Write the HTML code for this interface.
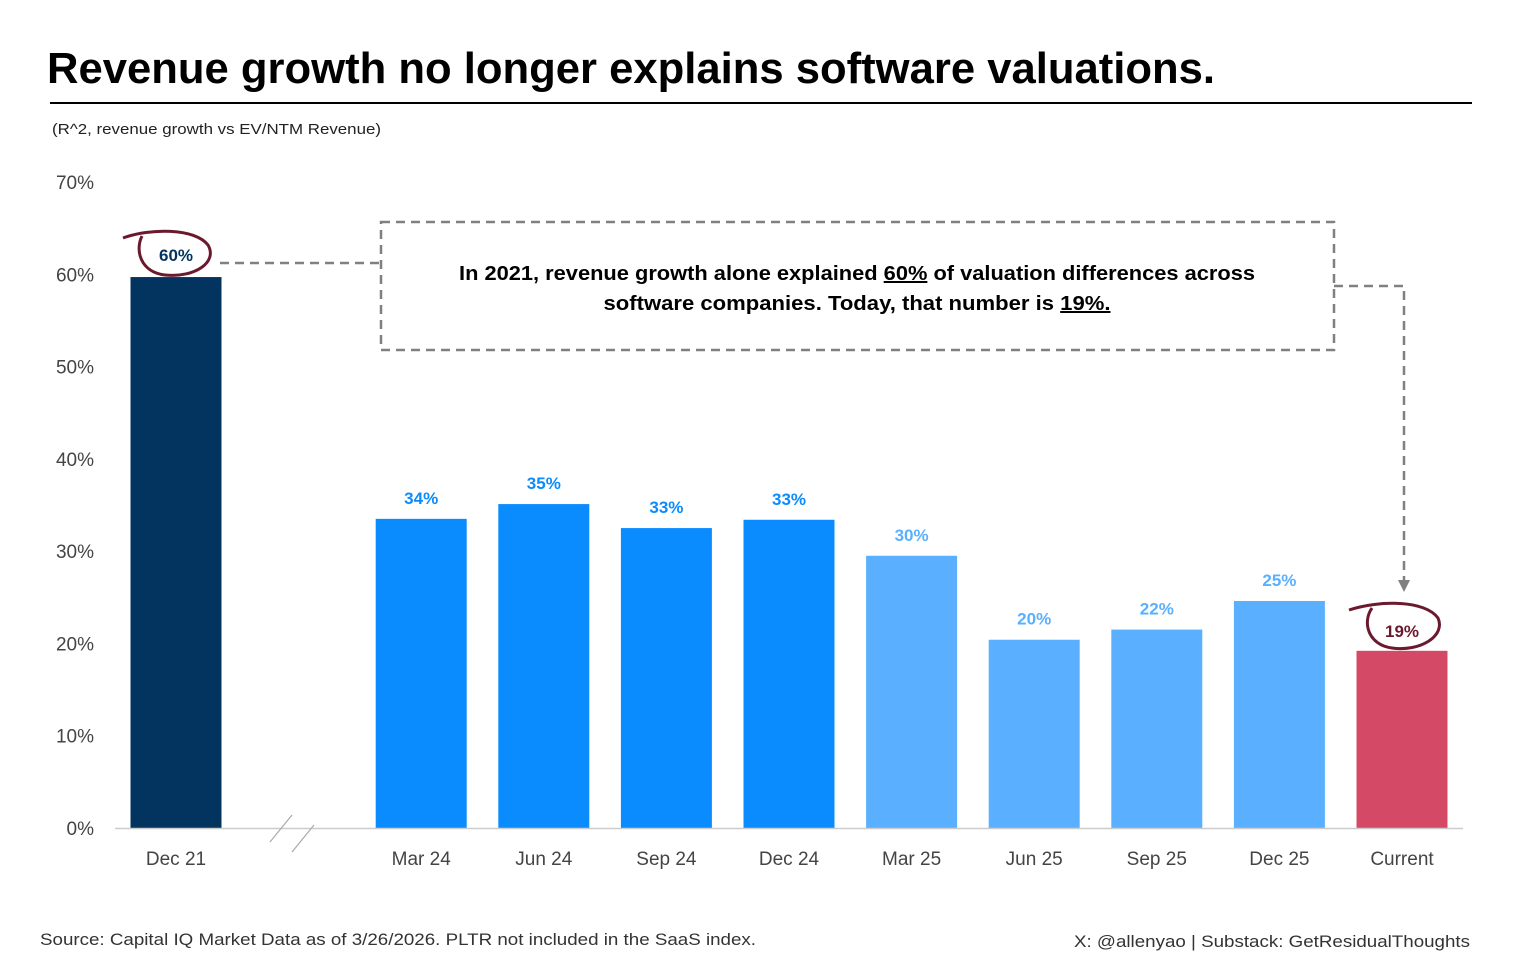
<!DOCTYPE html>
<html><head><meta charset="utf-8"><style>
body{margin:0;background:#fff;font-family:"Liberation Sans",sans-serif;}
svg{display:block}
</style></head><body>
<svg id="chart" width="1533" height="975" font-family="Liberation Sans, sans-serif">
<text x="47" y="83" font-size="44" font-weight="bold" fill="#000" textLength="1168" lengthAdjust="spacingAndGlyphs">Revenue growth no longer explains software valuations.</text>
<line x1="50" y1="103" x2="1472" y2="103" stroke="#000" stroke-width="2"/>
<text x="52" y="134" font-size="15" fill="#222" textLength="329" lengthAdjust="spacingAndGlyphs">(R^2, revenue growth vs EV/NTM Revenue)</text>
<g id="yaxis"></g>
<g id="bars"></g>
<line x1="115" y1="828.5" x2="1463" y2="828.5" stroke="#ccc" stroke-width="1.5"/>
<line x1="270" y1="842" x2="292" y2="815" stroke="#aaa" stroke-width="1.2"/>
<line x1="292" y1="852" x2="314" y2="825" stroke="#aaa" stroke-width="1.2"/>
<rect x="381" y="222" width="953" height="128" fill="none" stroke="#808080" stroke-width="2.5" stroke-dasharray="9,6"/>
<polyline points="220,263 381,263" fill="none" stroke="#808080" stroke-width="2.5" stroke-dasharray="9,6"/>
<polyline points="1334,286 1404,286 1404,582" fill="none" stroke="#808080" stroke-width="2.5" stroke-dasharray="9,6"/>
<polygon points="1398,580 1410,580 1404,592" fill="#808080"/>
<text x="857" y="280" font-size="20" font-weight="bold" text-anchor="middle" fill="#000" textLength="796" lengthAdjust="spacingAndGlyphs">In 2021, revenue growth alone explained <tspan text-decoration="underline">60%</tspan> of valuation differences across</text>
<text x="857" y="310" font-size="20" font-weight="bold" text-anchor="middle" fill="#000" textLength="507" lengthAdjust="spacingAndGlyphs">software companies. Today, that number is <tspan text-decoration="underline">19%.</tspan></text>
<path d="M123,238 C150,228 195,228 208,245 C218,262 195,278 165,275 C140,272 135,250 142,236" fill="none" stroke="#6b1a2e" stroke-width="3"/>
<path d="M1349,610 C1380,600 1425,600 1438,618 C1446,636 1420,652 1392,648 C1368,645 1362,622 1372,608" fill="none" stroke="#6b1a2e" stroke-width="3"/>
<text x="40" y="945" font-size="17" fill="#333" textLength="716" lengthAdjust="spacingAndGlyphs">Source: Capital IQ Market Data as of 3/26/2026. PLTR not included in the SaaS index.</text>
<text x="1470" y="947" font-size="17" fill="#333" text-anchor="end" textLength="396" lengthAdjust="spacingAndGlyphs">X: @allenyao | Substack: GetResidualThoughts</text>
</svg>
<script>
const categories=["Dec 21","","Mar 24","Jun 24","Sep 24","Dec 24","Mar 25","Jun 25","Sep 25","Dec 25","Current"];
const values=[59.7,null,33.5,35.1,32.5,33.4,29.5,20.4,21.5,24.6,19.2];
const valueLabels=["60%","","34%","35%","33%","33%","30%","20%","22%","25%","19%"];
const barColors=["#02345f",null,"#0a8cff","#0a8cff","#0a8cff","#0a8cff","#5ab0ff","#5ab0ff","#5ab0ff","#5ab0ff","#d44a66"];
const labelColors=["#02345f",null,"#0a8cff","#0a8cff","#0a8cff","#0a8cff","#5ab0ff","#5ab0ff","#5ab0ff","#5ab0ff","#6b1a2e"];
const yTicks=[0,10,20,30,40,50,60,70];
const yTickLabels=["0%","10%","20%","30%","40%","50%","60%","70%"];
const NS="http://www.w3.org/2000/svg";
const y=v=>828-v*(828-182)/70;
const xc=i=>176+i*122.6;
const bw=91;
function mk(tag,attrs,parent,txt){const e=document.createElementNS(NS,tag);for(const k in attrs)e.setAttribute(k,attrs[k]);if(txt!==undefined)e.textContent=txt;parent.appendChild(e);return e;}
const ya=document.getElementById('yaxis'),bg=document.getElementById('bars');
yTicks.forEach((t,i)=>{const e=mk('text',{x:94,y:y(t)+7,'font-size':19,fill:'#444','text-anchor':'end'},ya,yTickLabels[i]);

});
categories.forEach((c,i)=>{
 if(values[i]==null)return;
 const r=mk('rect',{x:xc(i)-bw/2,y:y(values[i]),width:bw,height:828-y(values[i]),fill:barColors[i]},bg);
 
 
 const l=mk('text',{x:xc(i),y:y(values[i])-15,'font-size':17,'font-weight':'bold',fill:labelColors[i],'text-anchor':'middle'},bg,valueLabels[i]);
 if(i===0||i===10)l.setAttribute('y',y(values[i])-14-(i===0?2:0));
 
 
 const t=mk('text',{x:xc(i),y:865,'font-size':19,fill:'#444','text-anchor':'middle'},bg,c);
 
 
});
</script>
</body></html>
